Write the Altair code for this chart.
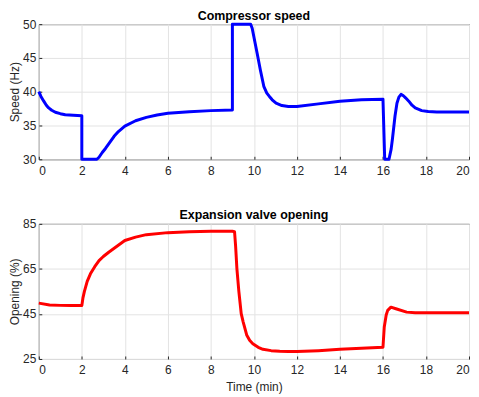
import altair as alt
import pandas as pd

speed_t = [0, 0.1, 0.23, 0.35, 0.46, 0.6, 0.77, 1.0, 1.23, 1.6, 2.0, 2.0, 2.7, 2.8, 2.95, 3.1, 3.3, 3.5, 3.7, 4.0, 4.5, 5.0, 5.5, 6.0, 7.0, 8.0, 9.0,
           9.0, 9.85, 9.92, 10.0, 10.15, 10.3, 10.46, 10.6, 10.72, 10.85, 11.03, 11.3, 11.6, 12.0, 13.0, 14.0, 15.0, 16.0,
           16.08, 16.28, 16.38, 16.44, 16.5, 16.56, 16.65, 16.74, 16.84, 16.95, 17.05, 17.2, 17.35, 17.5, 17.8, 18.1, 18.5, 19.0, 20.0]
speed_v = [40.0, 39.3, 38.6, 38.0, 37.6, 37.25, 36.96, 36.75, 36.6, 36.52, 36.45, 30.0, 30.0, 30.3, 31.0, 31.6, 32.5, 33.4, 34.1, 34.9, 35.7, 36.2, 36.55, 36.8, 37.05, 37.2, 37.3,
           50.0, 50.0, 49.4, 48.1, 45.7, 43.2, 40.8, 39.8, 39.3, 38.8, 38.3, 37.95, 37.8, 37.8, 38.2, 38.6, 38.8, 38.9,
           30.0, 30.0, 31.5, 33.0, 34.7, 36.4, 38.3, 39.2, 39.6, 39.4, 39.1, 38.6, 38.0, 37.6, 37.2, 37.06, 37.0, 37.0, 37.0]

valve_t = [0, 0.5, 1.0, 1.5, 2.0, 2.05, 2.12, 2.25, 2.4, 2.6, 2.8, 3.0, 3.25, 3.6, 4.0, 4.5, 5.0, 6.0, 7.0, 8.0, 9.0,
           9.1, 9.15, 9.21, 9.3, 9.41, 9.5, 9.67, 9.8, 9.95, 10.2, 10.42, 10.8, 11.2, 11.6, 12.0, 13.0, 14.0, 15.0, 16.0,
           16.06, 16.15, 16.22, 16.37, 16.6, 17.1, 17.5, 18.0, 19.0, 20.0]
valve_v = [49.8, 49.0, 48.8, 48.7, 48.7, 52.0, 55.0, 59.5, 62.8, 66.0, 68.7, 70.5, 72.4, 74.8, 77.6, 79.1, 80.2, 81.1, 81.5, 81.7, 81.7,
           81.5, 75.0, 65.0, 55.0, 45.1, 41.5, 35.5, 33.3, 31.8, 30.2, 29.3, 28.7, 28.4, 28.3, 28.3, 28.7, 29.3, 29.8, 30.2,
           39.2, 44.5, 46.6, 48.0, 47.3, 45.8, 45.5, 45.5, 45.5, 45.5]

speed_df = pd.DataFrame({"t": speed_t, "v": speed_v, "i": range(len(speed_t))})
valve_df = pd.DataFrame({"t": valve_t, "v": valve_v, "i": range(len(valve_t))})

FONT = "Liberation Sans"
W, H = 433, 136
TICK_IN = {"expr": "-3"}


def panel(df, color, title, ydom, yticks, ytitle, xtitle):
    x_axis = alt.Axis(values=list(range(0, 21, 2)), title=xtitle, grid=True, tickSize=TICK_IN,
                      labelPadding=9, titlePadding=6, labelFontSize=12, titleFontSize=12,
                      titleFontWeight="normal")
    return alt.Chart(df).mark_line(color=color, strokeWidth=3, strokeJoin="round").encode(
        x=alt.X("t:Q", scale=alt.Scale(domain=[0, 20], nice=False), axis=x_axis),
        y=alt.Y("v:Q", scale=alt.Scale(domain=ydom, nice=False),
                axis=alt.Axis(values=yticks, title=ytitle, grid=True, tickSize=TICK_IN, labelPadding=6,
                              titlePadding=1, labelFontSize=12, titleFontSize=12,
                              titleFontWeight="normal")),
        order="i:Q",
    ).properties(width=W, height=H,
                 title=alt.TitleParams(title, fontSize=12.5, fontWeight="bold", font=FONT,
                                       color="black", offset=-4))


top = panel(speed_df, "#0000FF", "Compressor speed", [30, 50], [30, 35, 40, 45, 50], "Speed (Hz)", None)
bottom = panel(valve_df, "#FF0000", "Expansion valve opening", [25, 85], [25, 45, 65, 85], "Opening (%)", "Time (min)")

chart = alt.vconcat(top, bottom, spacing=32).properties(
    padding={"left": 0, "top": 0, "right": 0, "bottom": 0}
).configure_view(stroke="#262626", strokeWidth=1).configure_axis(
    labelFont=FONT, titleFont=FONT, labelColor="#262626", titleColor="#262626",
    gridColor="#e3e3e3", gridWidth=1, domain=False, tickColor="#262626", tickWidth=1
)

chart.save("out.html", embed_options={"renderer": "svg", "actions": False})
